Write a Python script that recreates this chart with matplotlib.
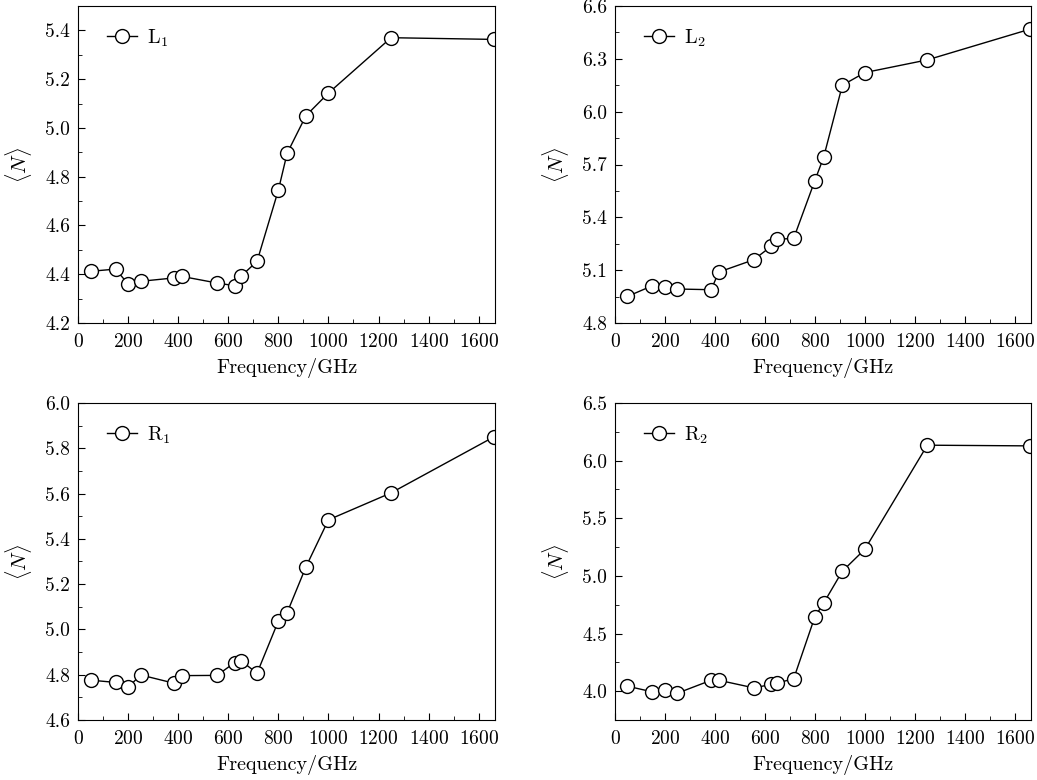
import matplotlib
matplotlib.use("Agg")
import matplotlib.pyplot as plt
from matplotlib.ticker import MultipleLocator, FormatStrFormatter

plt.rcParams['font.family'] = 'serif'
plt.rcParams['font.serif'] = ['cmr10']
plt.rcParams['mathtext.fontset'] = 'cm'
plt.rcParams['axes.formatter.use_mathtext'] = True

freq = [50, 150, 200, 250, 385, 415, 555, 625, 650, 715, 800, 835, 910, 1000, 1250, 1660]

L1 = [4.412, 4.421, 4.360, 4.371, 4.385, 4.391, 4.364, 4.353, 4.391, 4.453,
      4.745, 4.896, 5.050, 5.143, 5.370, 5.363]
L2 = [4.951, 5.012, 5.004, 4.993, 4.989, 5.089, 5.159, 5.235, 5.276, 5.280,
      5.609, 5.741, 6.150, 6.222, 6.294, 6.468]
R1 = [4.776, 4.766, 4.744, 4.799, 4.762, 4.796, 4.797, 4.853, 4.862, 4.807,
      5.037, 5.074, 5.276, 5.484, 5.603, 5.850]
R2 = [4.043, 3.994, 4.009, 3.983, 4.095, 4.095, 4.029, 4.058, 4.072, 4.107,
      4.646, 4.764, 5.041, 5.231, 6.134, 6.128]

labels = [r'L$_1$', r'L$_2$', r'R$_1$', r'R$_2$']
ylims = [(4.2, 5.5), (4.8, 6.6), (4.6, 6.0), (3.75, 6.5)]
ymajor = [0.2, 0.3, 0.2, 0.5]

W, H = 1037, 780
fig = plt.figure(figsize=(W / 100, H / 100), dpi=100)

boxes = [(78, 6, 495, 323), (615, 6, 1031, 323), (78, 403, 495, 720), (615, 403, 1031, 720)]
series = [L1, L2, R1, R2]

for i, (x0, y0, x1, y1) in enumerate(boxes):
    aw, ah = x1 - x0, y1 - y0
    ax = fig.add_axes([x0 / W, 1 - y1 / H, aw / W, ah / H])
    ax.plot(freq, series[i], '-o', color='black', lw=1.0, markersize=10,
            markerfacecolor='white', markeredgecolor='black', markeredgewidth=1.0,
            label=labels[i])
    ax.set_xlim(0, 1665)
    ax.set_ylim(*ylims[i])
    ax.xaxis.set_major_locator(MultipleLocator(200))
    ax.xaxis.set_minor_locator(MultipleLocator(100))
    ax.yaxis.set_major_locator(MultipleLocator(ymajor[i]))
    ax.yaxis.set_minor_locator(MultipleLocator(ymajor[i] / 2))
    ax.yaxis.set_major_formatter(FormatStrFormatter('%.1f'))
    ax.tick_params(which='both', direction='in', labelsize=14, top=False, right=False)
    ax.tick_params(axis='x', which='major', pad=7)
    ax.tick_params(axis='y', which='major', pad=5.5)
    ax.tick_params(which='major', length=5)
    ax.tick_params(which='minor', length=3)
    ax.set_xlabel('Frequency/GHz', fontsize=14.5)
    ax.xaxis.set_label_coords(0.5, -35 / ah)
    ax.set_ylabel(r'$\langle N\rangle$', fontsize=15)
    ax.yaxis.set_label_coords(-44 / aw, 0.5)
    ax.legend(loc='center left', bbox_to_anchor=(29 / aw, 1 - 32 / ah), frameon=False,
              fontsize=14.5, handlelength=1.5, borderaxespad=0, borderpad=0,
              handletextpad=0.5)

fig.savefig('out.png', dpi=100)
